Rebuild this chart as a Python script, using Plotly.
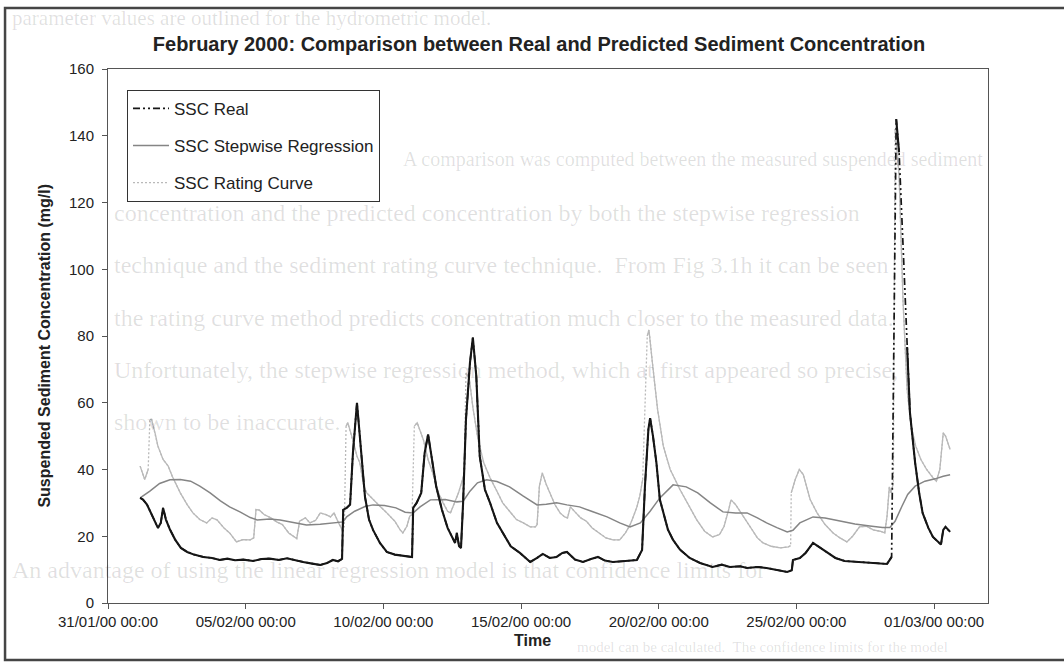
import plotly.graph_objects as go

# ---------------------------------------------------------------------------
# February 2000 suspended sediment concentration (mg/l)
# ---------------------------------------------------------------------------
real_time = [
    "2000-02-01 04:00", "2000-02-01 06:30", "2000-02-01 10:00", "2000-02-01 13:30",
    "2000-02-01 17:00", "2000-02-01 19:30", "2000-02-01 22:00", "2000-02-02 00:00",
    "2000-02-02 02:30", "2000-02-02 06:00", "2000-02-02 10:30", "2000-02-02 15:30",
    "2000-02-02 21:00", "2000-02-03 03:00", "2000-02-03 11:00", "2000-02-03 18:40",
    "2000-02-04 01:30", "2000-02-04 08:00", "2000-02-04 14:40", "2000-02-04 22:00",
    "2000-02-05 06:30", "2000-02-05 14:00", "2000-02-05 21:00", "2000-02-06 05:00",
    "2000-02-06 12:00", "2000-02-06 19:00", "2000-02-07 02:00", "2000-02-07 10:00",
    "2000-02-07 17:00", "2000-02-07 23:00", "2000-02-08 04:00", "2000-02-08 08:30",
    "2000-02-08 12:00", "2000-02-08 13:00", "2000-02-08 16:00", "2000-02-08 19:00",
    "2000-02-08 21:30", "2000-02-09 01:00", "2000-02-09 04:30", "2000-02-09 08:00",
    "2000-02-09 11:30", "2000-02-09 15:00", "2000-02-09 21:00", "2000-02-10 03:00",
    "2000-02-10 10:00", "2000-02-10 19:00", "2000-02-11 01:00", "2000-02-11 02:00",
    "2000-02-11 05:00", "2000-02-11 09:00", "2000-02-11 12:00", "2000-02-11 15:00",
    "2000-02-11 17:30", "2000-02-11 22:00", "2000-02-12 03:00", "2000-02-12 08:00",
    "2000-02-12 14:30", "2000-02-12 16:00", "2000-02-12 18:00", "2000-02-12 19:40",
    "2000-02-12 21:30", "2000-02-13 00:00", "2000-02-13 03:30", "2000-02-13 06:00",
    "2000-02-13 09:00", "2000-02-13 12:00", "2000-02-13 16:30", "2000-02-13 21:00",
    "2000-02-14 03:00", "2000-02-14 08:00", "2000-02-14 15:00", "2000-02-14 23:00",
    "2000-02-15 08:00", "2000-02-15 14:00", "2000-02-15 19:00", "2000-02-16 01:00",
    "2000-02-16 07:00", "2000-02-16 12:00", "2000-02-16 16:00", "2000-02-16 23:00",
    "2000-02-17 06:00", "2000-02-17 13:00", "2000-02-17 19:00", "2000-02-18 01:00",
    "2000-02-18 08:00", "2000-02-18 19:00", "2000-02-19 05:00", "2000-02-19 09:30",
    "2000-02-19 12:00", "2000-02-19 15:00", "2000-02-19 16:30", "2000-02-19 19:00",
    "2000-02-19 22:00", "2000-02-20 01:00", "2000-02-20 04:00", "2000-02-20 08:00",
    "2000-02-20 12:30", "2000-02-20 18:30", "2000-02-21 03:00", "2000-02-21 12:00",
    "2000-02-21 23:00", "2000-02-22 07:00", "2000-02-22 14:00", "2000-02-22 23:00",
    "2000-02-23 05:00", "2000-02-23 14:00", "2000-02-23 22:00", "2000-02-24 07:00",
    "2000-02-24 16:00", "2000-02-24 20:00", "2000-02-24 21:00", "2000-02-25 03:00",
    "2000-02-25 08:00", "2000-02-25 14:30", "2000-02-25 19:00", "2000-02-26 03:00",
    "2000-02-26 10:00", "2000-02-26 18:00", "2000-02-27 05:00", "2000-02-27 13:30",
    "2000-02-27 22:00", "2000-02-28 07:00", "2000-02-28 09:30", "2000-02-28 11:00",
    "2000-02-28 15:00", "2000-02-28 17:30", "2000-02-28 21:00", "2000-02-29 00:30",
    "2000-02-29 03:00", "2000-02-29 07:30", "2000-02-29 11:00", "2000-02-29 14:00",
    "2000-02-29 19:00", "2000-02-29 23:00", "2000-03-01 03:00", "2000-03-01 06:00",
    "2000-03-01 08:00", "2000-03-01 10:00", "2000-03-01 14:00",
]
real_ssc = [
    31.5, 31.0, 29.5, 27.0, 24.5, 22.5, 24.0, 28.5,
    25.0, 22.0, 19.0, 16.5, 15.3, 14.5, 13.8, 13.5,
    12.9, 13.3, 12.8, 13.0, 12.6, 13.2, 13.3, 12.9,
    13.4, 12.8, 12.3, 11.8, 11.4, 12.0, 12.9, 12.5,
    13.2, 27.9, 28.5, 29.5, 45.0, 60.0, 45.0, 31.8,
    25.0, 21.9, 18.0, 15.3, 14.5, 14.0, 13.8, 28.5,
    30.0, 33.0, 45.0, 50.5, 45.0, 35.0, 28.0, 22.5,
    18.0, 21.0, 17.0, 16.5, 30.0, 55.0, 72.0, 79.5,
    68.0, 44.0, 34.0, 30.0, 24.0, 21.0, 17.0, 15.0,
    12.3, 13.5, 14.7, 13.5, 13.8, 15.0, 15.3, 13.0,
    12.3, 13.2, 13.8, 12.7, 12.3, 12.6, 12.9, 15.9,
    35.0, 52.0, 55.4, 50.0, 42.0, 31.0, 27.0, 22.0,
    18.9, 16.0, 13.5, 12.0, 10.8, 11.5, 10.8, 11.0,
    10.5, 10.8, 10.5, 10.0, 9.3, 9.8, 12.9, 13.5,
    15.0, 18.0, 17.0, 15.0, 13.5, 12.6, 12.3, 12.0,
    11.8, 11.7, 13.0, 13.8, 145.0, 135.0, 106.7, 76.7,
    57.0, 42.0, 33.0, 27.0, 22.5, 19.8, 18.3, 17.5,
    21.9, 22.8, 21.3,
]

step_time = [
    "2000-02-01 04:00", "2000-02-01 12:30", "2000-02-01 21:00", "2000-02-02 06:00",
    "2000-02-02 15:00", "2000-02-03 00:00", "2000-02-03 08:00", "2000-02-03 17:00",
    "2000-02-04 02:00", "2000-02-04 10:00", "2000-02-04 19:00", "2000-02-05 04:00",
    "2000-02-05 10:00", "2000-02-05 21:00", "2000-02-06 06:00", "2000-02-06 19:00",
    "2000-02-07 05:00", "2000-02-07 17:00", "2000-02-08 06:00", "2000-02-08 13:00",
    "2000-02-08 16:00", "2000-02-08 23:00", "2000-02-09 08:00", "2000-02-09 15:00",
    "2000-02-10 01:00", "2000-02-10 11:00", "2000-02-10 19:00", "2000-02-11 02:00",
    "2000-02-11 08:00", "2000-02-11 17:00", "2000-02-12 06:00", "2000-02-12 16:00",
    "2000-02-12 21:30", "2000-02-13 03:30", "2000-02-13 10:00", "2000-02-13 18:00",
    "2000-02-14 03:00", "2000-02-14 14:00", "2000-02-15 02:00", "2000-02-15 14:00",
    "2000-02-15 22:00", "2000-02-16 07:00", "2000-02-16 16:00", "2000-02-17 03:00",
    "2000-02-17 14:00", "2000-02-18 03:00", "2000-02-18 14:00", "2000-02-18 23:00",
    "2000-02-19 08:00", "2000-02-19 16:30", "2000-02-20 01:00", "2000-02-20 12:30",
    "2000-02-21 00:00", "2000-02-21 10:00", "2000-02-21 21:00", "2000-02-22 08:00",
    "2000-02-22 19:00", "2000-02-23 05:00", "2000-02-23 14:00", "2000-02-23 22:00",
    "2000-02-24 07:00", "2000-02-24 16:00", "2000-02-24 21:00", "2000-02-25 03:00",
    "2000-02-25 14:30", "2000-02-26 01:00", "2000-02-26 14:00", "2000-02-27 03:00",
    "2000-02-27 16:00", "2000-02-28 03:00", "2000-02-28 09:30", "2000-02-28 14:00",
    "2000-02-28 20:00", "2000-02-29 01:00", "2000-02-29 07:30", "2000-02-29 16:00",
    "2000-03-01 01:00", "2000-03-01 08:00", "2000-03-01 14:00",
]
step_ssc = [
    31.5, 33.5, 35.8, 36.9, 37.0, 36.5, 35.0, 33.0,
    30.6, 28.8, 27.3, 25.6, 24.9, 25.2, 24.9, 24.0,
    23.4, 23.6, 24.1, 24.3, 25.8, 27.5, 28.9, 29.4,
    29.2, 28.5, 27.2, 27.0, 28.8, 30.9, 31.0, 30.3,
    30.5, 33.5, 36.0, 36.9, 36.4, 34.8, 32.0, 29.4,
    29.6, 30.0, 29.4, 28.8, 27.4, 25.8, 24.0, 22.8,
    24.0, 27.5, 31.5, 35.4, 34.8, 33.0, 30.0, 27.3,
    27.0, 27.0, 25.5, 24.0, 22.6, 21.3, 21.8, 24.0,
    25.8, 25.5, 24.6, 23.7, 23.1, 22.6, 22.6, 24.5,
    29.0, 32.5, 35.0, 36.5, 37.2, 38.0, 38.4,
]

rating_time = [
    "2000-02-01 04:00", "2000-02-01 06:30", "2000-02-01 08:00", "2000-02-01 11:00",
    "2000-02-01 12:30", "2000-02-01 14:00", "2000-02-01 17:00", "2000-02-01 19:30",
    "2000-02-02 00:00", "2000-02-02 04:30", "2000-02-02 08:00", "2000-02-02 15:00",
    "2000-02-02 21:00", "2000-02-03 02:00", "2000-02-03 08:00", "2000-02-03 14:00",
    "2000-02-03 18:40", "2000-02-03 23:00", "2000-02-04 05:00", "2000-02-04 10:00",
    "2000-02-04 16:00", "2000-02-04 21:30", "2000-02-05 04:00", "2000-02-05 07:00",
    "2000-02-05 09:00", "2000-02-05 12:00", "2000-02-05 16:00", "2000-02-05 22:00",
    "2000-02-06 03:00", "2000-02-06 08:00", "2000-02-06 13:30", "2000-02-06 19:00",
    "2000-02-06 20:30", "2000-02-06 23:00", "2000-02-07 04:00", "2000-02-07 08:00",
    "2000-02-07 13:00", "2000-02-07 17:00", "2000-02-07 22:00", "2000-02-08 02:00",
    "2000-02-08 05:00", "2000-02-08 09:00", "2000-02-08 12:00", "2000-02-08 14:00",
    "2000-02-08 15:30", "2000-02-08 17:00", "2000-02-08 21:30", "2000-02-09 01:00",
    "2000-02-09 03:30", "2000-02-09 07:00", "2000-02-09 09:30", "2000-02-09 15:00",
    "2000-02-09 21:00", "2000-02-10 03:00", "2000-02-10 10:00", "2000-02-10 14:30",
    "2000-02-10 17:00", "2000-02-10 20:30", "2000-02-10 23:00", "2000-02-11 01:00",
    "2000-02-11 03:00", "2000-02-11 05:30", "2000-02-11 11:00", "2000-02-11 15:00",
    "2000-02-11 19:30", "2000-02-12 00:00", "2000-02-12 04:00", "2000-02-12 08:00",
    "2000-02-12 10:30", "2000-02-12 14:00", "2000-02-12 17:30", "2000-02-12 21:00",
    "2000-02-12 22:30", "2000-02-13 00:00", "2000-02-13 03:00", "2000-02-13 06:00",
    "2000-02-13 10:30", "2000-02-13 15:30", "2000-02-13 21:00", "2000-02-14 03:00",
    "2000-02-14 08:00", "2000-02-14 14:00", "2000-02-14 20:00", "2000-02-15 02:00",
    "2000-02-15 08:00", "2000-02-15 12:30", "2000-02-15 14:00", "2000-02-15 16:00",
    "2000-02-15 18:30", "2000-02-15 22:00", "2000-02-16 01:00", "2000-02-16 05:30",
    "2000-02-16 10:00", "2000-02-16 14:00", "2000-02-16 16:30", "2000-02-16 19:00",
    "2000-02-16 23:00", "2000-02-17 04:00", "2000-02-17 09:00", "2000-02-17 14:00",
    "2000-02-17 20:00", "2000-02-18 02:00", "2000-02-18 08:00", "2000-02-18 14:00",
    "2000-02-18 19:00", "2000-02-18 23:00", "2000-02-19 02:00", "2000-02-19 05:00",
    "2000-02-19 07:30", "2000-02-19 10:00", "2000-02-19 14:00", "2000-02-19 15:30",
    "2000-02-19 18:30", "2000-02-19 23:00", "2000-02-20 04:00", "2000-02-20 10:00",
    "2000-02-20 18:30", "2000-02-21 03:00", "2000-02-21 09:00", "2000-02-21 16:00",
    "2000-02-21 23:00", "2000-02-22 05:00", "2000-02-22 09:00", "2000-02-22 13:00",
    "2000-02-22 15:00", "2000-02-22 19:00", "2000-02-22 22:00", "2000-02-23 05:00",
    "2000-02-23 10:00", "2000-02-23 14:00", "2000-02-23 19:00", "2000-02-24 02:00",
    "2000-02-24 10:00", "2000-02-24 17:00", "2000-02-24 19:00", "2000-02-24 19:30",
    "2000-02-24 23:00", "2000-02-25 02:30", "2000-02-25 06:00", "2000-02-25 12:00",
    "2000-02-25 18:00", "2000-02-26 01:00", "2000-02-26 08:00", "2000-02-26 14:00",
    "2000-02-26 20:00", "2000-02-27 01:00", "2000-02-27 07:00", "2000-02-27 13:00",
    "2000-02-27 19:00", "2000-02-28 01:00", "2000-02-28 05:00", "2000-02-28 07:00",
    "2000-02-28 09:00", "2000-02-28 10:30", "2000-02-28 12:30", "2000-02-28 14:00",
    "2000-02-28 17:30", "2000-02-28 21:00", "2000-02-29 00:30", "2000-02-29 04:00",
    "2000-02-29 08:00", "2000-02-29 12:30", "2000-02-29 17:30", "2000-02-29 23:00",
    "2000-03-01 02:00", "2000-03-01 05:00", "2000-03-01 08:00", "2000-03-01 10:00",
    "2000-03-01 14:00",
]
rating_ssc = [
    41.0, 38.5, 37.0, 40.0, 55.0, 55.0, 51.0, 47.0,
    43.0, 41.0, 38.0, 33.0, 29.5, 27.0, 25.0, 24.0,
    25.5, 24.9, 22.5, 21.0, 18.3, 19.0, 18.9, 19.5,
    28.0, 27.8, 26.5, 25.5, 24.3, 23.5, 21.0, 19.5,
    19.3, 24.5, 25.5, 24.0, 24.8, 27.0, 26.5, 25.8,
    27.0, 24.0, 22.0, 23.0, 53.0, 54.0, 48.8, 44.0,
    42.0, 35.0, 33.0, 31.0, 29.0, 27.0, 24.5, 22.0,
    21.0, 23.0, 26.0, 26.5, 53.0, 54.0, 48.8, 43.0,
    38.5, 33.0, 30.0, 27.5, 27.0, 30.0, 33.0, 37.0,
    39.0, 69.0, 67.0, 58.7, 49.0, 42.0, 37.5, 33.5,
    30.0, 27.5, 25.0, 24.0, 22.8, 22.8, 23.5, 35.0,
    39.0, 35.5, 33.0, 29.5, 27.0, 25.8, 25.5, 28.8,
    27.3, 25.5, 24.5, 22.5, 21.0, 19.5, 18.9, 18.9,
    21.0, 23.4, 26.0, 28.8, 32.0, 37.0, 80.0, 81.8,
    72.0, 58.0, 47.0, 40.0, 34.0, 28.5, 25.0, 21.5,
    19.8, 20.5, 23.0, 28.0, 30.9, 29.5, 27.9, 24.5,
    21.9, 19.5, 18.0, 17.0, 16.5, 16.8, 17.2, 33.0,
    37.0, 40.0, 38.5, 31.0, 27.0, 23.5, 21.0, 19.5,
    18.3, 20.0, 22.8, 23.0, 21.9, 21.5, 21.0, 26.0,
    34.8, 33.0, 36.0, 142.0, 128.0, 90.0, 64.0, 53.0,
    47.0, 43.0, 40.0, 37.5, 36.5, 40.0, 51.0, 50.0,
    46.0,
]

# axis settings
y_ticks = [0, 20, 40, 60, 80, 100, 120, 140, 160]
x_start = "2000-01-31 00:00"
x_end = "2000-03-02 23:00"
FIVE_DAYS_MS = 5 * 24 * 3600 * 1000

# faint lines of page text behind the chart: (paper x, paper y, size, text)
page_text = [
    (-0.1114, 1.0955, 21, "parameter values are outlined for the hydrometric model."),
    (0.3330, 0.8296, 20, "A comparison was computed between the measured suspended sediment"),
    (0.0045, 0.7303, 24, "concentration and the predicted concentration by both the stepwise regression"),
    (0.0045, 0.6330, 24, "technique and the sediment rating curve technique.  From Fig 3.1h it can be seen"),
    (0.0045, 0.5337, 24, "the rating curve method predicts concentration much closer to the measured data."),
    (0.0045, 0.4363, 24, "Unfortunately, the stepwise regression method, which at first appeared so precise,"),
    (0.0045, 0.3390, 24, "shown to be inaccurate."),
    (-0.1114, 0.0618, 24, "An advantage of using the linear regression model is that confidence limits for"),
    (0.5310, -0.0824, 15, "model can be calculated.  The confidence limits for the model"),
]


def split_on_jumps(times, values, limit, rises_only=False):
    """Insert gaps where consecutive values jump by more than `limit`."""
    xs, ys = [times[0]], [values[0]]
    for i in range(1, len(values)):
        d = values[i] - values[i - 1]
        if (d if rises_only else abs(d)) > limit:
            xs.append(None)
            ys.append(None)
        xs.append(times[i])
        ys.append(values[i])
    return xs, ys


REAL_C = "#161616"
STEP_C = "#858585"
RATE_C = "#b9b9b9"
SANS = "Liberation Sans, Arial, sans-serif"

fig = go.Figure()

# rating curve: solid between jumps, dotted everywhere (dots show on the jumps)
rx, ry = split_on_jumps(rating_time, rating_ssc, 12, rises_only=True)
fig.add_trace(go.Scatter(x=rx, y=ry, mode="lines", showlegend=False,
                         line=dict(color=RATE_C, width=1.3), hoverinfo="skip"))
fig.add_trace(go.Scatter(x=rating_time, y=rating_ssc, mode="lines",
                         name="SSC Rating Curve", legendrank=3, legendgroup="c",
                         line=dict(color=RATE_C, width=1.3, dash="2px,2px")))

# stepwise regression
fig.add_trace(go.Scatter(x=step_time, y=step_ssc, mode="lines",
                         name="SSC Stepwise Regression", legendrank=2, legendgroup="b",
                         line=dict(color=STEP_C, width=1.5)))

# measured concentration: solid except on the big jumps, dash-dot overlay
sx, sy = split_on_jumps(real_time, real_ssc, 27)
fig.add_trace(go.Scatter(x=sx, y=sy, mode="lines", showlegend=False,
                         line=dict(color=REAL_C, width=2.1), hoverinfo="skip"))
fig.add_trace(go.Scatter(x=real_time, y=real_ssc, mode="lines",
                         name="SSC Real", legendrank=1, legendgroup="a",
                         line=dict(color=REAL_C, width=1.7,
                                   dash="7px,3px,2px,3px,2px,3px")))

annotations = [
    dict(text="Suspended Sediment Concentration (mg/l)", textangle=-90,
         xref="paper", yref="paper", x=-0.0716, y=0.482,
         xanchor="center", yanchor="middle", showarrow=False,
         font=dict(family=SANS, size=16, color="#222222", weight="bold")),
    dict(text="Time", xref="paper", yref="paper", x=0.482, y=-0.071,
         xanchor="center", yanchor="middle", showarrow=False,
         font=dict(family=SANS, size=16, color="#222222", weight="bold")),
]
for px, py, size, line in page_text:
    annotations.append(dict(
        text=line, xref="paper", yref="paper", x=px, y=py,
        xanchor="left", yanchor="middle", showarrow=False,
        font=dict(family="Liberation Serif, Times New Roman, serif", size=size,
                  color="rgba(0,0,0,0.12)")))

fig.update_layout(
    width=1064, height=664,
    margin=dict(l=108, r=76, t=69, b=61),
    paper_bgcolor="white", plot_bgcolor="white",
    font=dict(family=SANS, color="#222222"),
    title=dict(text="<b>February 2000: Comparison between Real and Predicted Sediment Concentration</b>",
               x=0.5066, xanchor="center", y=0.934, yanchor="middle",
               font=dict(size=20, color="#222222")),
    showlegend=True,
    legend=dict(x=0.0216, y=0.961, xanchor="left", yanchor="top",
                bgcolor="white", bordercolor="#333333", borderwidth=1,
                font=dict(size=17, color="#222222"),
                traceorder="grouped", tracegroupgap=12, itemwidth=36),
    annotations=annotations,
    shapes=[dict(type="rect", xref="paper", yref="paper",
                 x0=-0.117, x1=1.2, y0=-0.1067, y1=1.1142,
                 line=dict(color="#454545", width=2.5), layer="below")],
)

fig.update_xaxes(
    type="date", range=[x_start, x_end],
    tick0=x_start, dtick=FIVE_DAYS_MS, tickformat="%d/%m/%y %H:%M",
    ticks="outside", ticklen=5, tickcolor="#555555",
    tickfont=dict(size=15, color="#222222"),
    showline=True, linecolor="#555555", linewidth=1, mirror=True,
    showgrid=False, zeroline=False,
)
fig.update_yaxes(
    range=[0, 160], tickvals=y_ticks,
    ticks="outside", ticklen=5, tickcolor="#555555", ticklabelstandoff=5,
    tickfont=dict(size=15, color="#222222"),
    showline=True, linecolor="#555555", linewidth=1, mirror=True,
    showgrid=False, zeroline=False,
)

fig.write_html("out.html")
